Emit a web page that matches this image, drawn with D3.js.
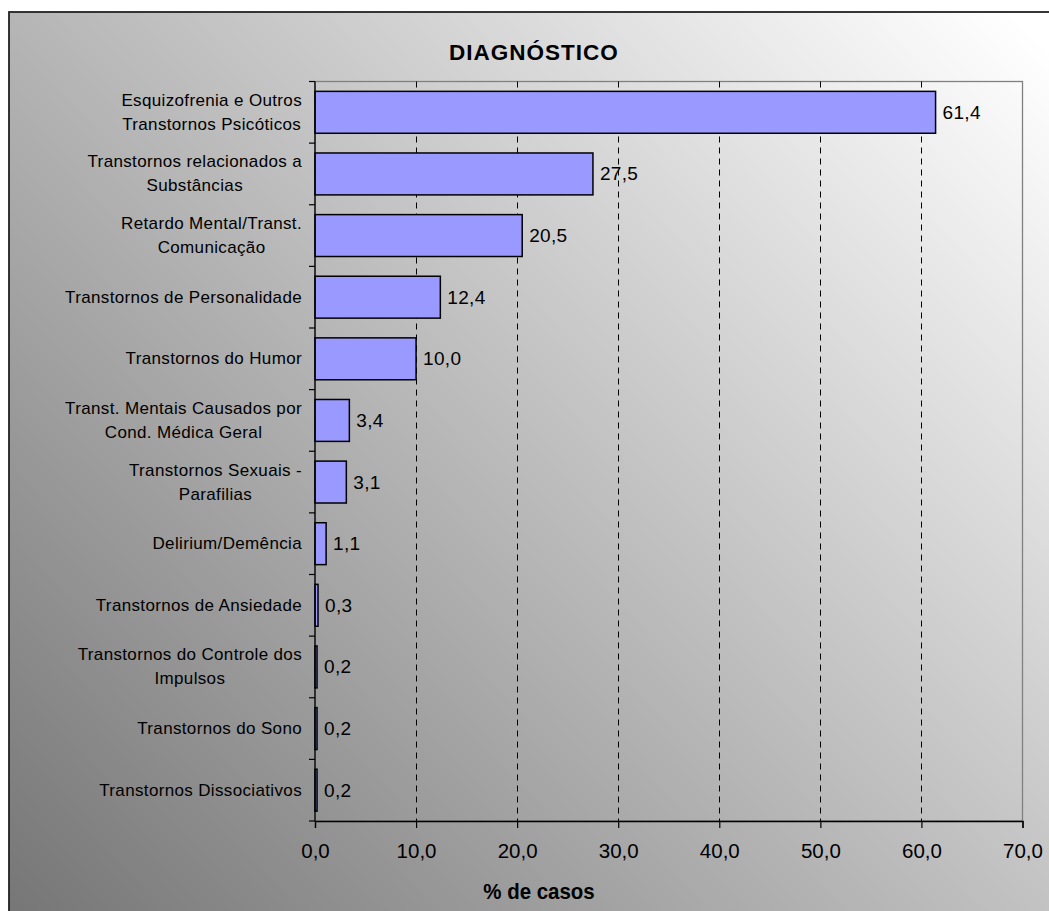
<!DOCTYPE html>
<html>
<head>
<meta charset="utf-8">
<script src="https://cdn.jsdelivr.net/npm/d3@7/dist/d3.min.js"></script>
<style>
  html, body { margin: 0; padding: 0; background: #fff; }
  svg { display: block; }
  text { font-family: "Liberation Sans", Arial, sans-serif; fill: #000; }
</style>
</head>
<body>
<svg id="chart" width="1049" height="911"></svg>
<script>
// Diagnósticos (% de casos)
const categories = [
  "Esquizofrenia e Outros\nTranstornos Psicóticos",
  "Transtornos relacionados a\nSubstâncias",
  "Retardo Mental/Transt.\nComunicação",
  "Transtornos de Personalidade",
  "Transtornos do Humor",
  "Transt. Mentais Causados por\nCond. Médica Geral",
  "Transtornos Sexuais -\nParafilias",
  "Delirium/Demência",
  "Transtornos de Ansiedade",
  "Transtornos do Controle dos\nImpulsos",
  "Transtornos do Sono",
  "Transtornos Dissociativos"
];
const values = [61.4, 27.5, 20.5, 12.4, 10.0, 3.4, 3.1, 1.1, 0.3, 0.2, 0.2, 0.2];
const xTicks = [0, 10, 20, 30, 40, 50, 60, 70];
const chartTitle = "DIAGNÓSTICO";
const axisTitle = "% de casos";

const fmt = v => d3.format(".1f")(v).replace(".", ",");

const svg = d3.select("#chart");
const W = 1049, H = 911;

// background gradient (dark bottom-left to light top-right)
const defs = svg.append("defs");
const grad = defs.append("linearGradient")
  .attr("id", "bg")
  .attr("gradientUnits", "userSpaceOnUse")
  .attr("x1", 0).attr("y1", 960)
  .attr("x2", 1000).attr("y2", 0);
grad.append("stop").attr("offset", "0%").attr("stop-color", "#727272");
grad.append("stop").attr("offset", "100%").attr("stop-color", "#ffffff");

svg.append("rect").attr("width", W).attr("height", H).attr("fill", "#fff");
svg.append("rect")
  .attr("x", 9).attr("y", 12)
  .attr("width", W + 20).attr("height", H + 20)
  .attr("fill", "url(#bg)")
  .attr("stroke", "#222").attr("stroke-width", 1.8);

const plot = { left: 315, top: 81.5, right: 1022.5, bottom: 821 };

const x = d3.scaleLinear().domain([0, 70]).range([plot.left, plot.right]);
const y = d3.scaleBand()
  .domain(categories)
  .range([plot.top, plot.bottom])
  .paddingInner(0.32)
  .paddingOuter(0.16);

// plot area frame
svg.append("rect")
  .attr("x", plot.left).attr("y", plot.top)
  .attr("width", plot.right - plot.left).attr("height", plot.bottom - plot.top)
  .attr("fill", "none").attr("stroke", "#808080").attr("stroke-width", 1.3);

// dashed vertical gridlines
svg.append("g")
  .selectAll("line")
  .data(xTicks.filter(t => t > 0 && t < 70))
  .join("line")
  .attr("x1", d => Math.round(x(d)) + 0.5).attr("x2", d => Math.round(x(d)) + 0.5)
  .attr("y1", plot.top).attr("y2", plot.bottom)
  .attr("stroke", "#000").attr("stroke-width", 1)
  .attr("stroke-dasharray", "6,5");

// bars
svg.append("g")
  .selectAll("rect")
  .data(values)
  .join("rect")
  .attr("x", x(0))
  .attr("y", (d, i) => y(categories[i]))
  .attr("width", d => x(d) - x(0))
  .attr("height", y.bandwidth())
  .attr("fill", "#9999ff")
  .attr("stroke", "#000").attr("stroke-width", 1.5);

// value labels
svg.append("g")
  .selectAll("text")
  .data(values)
  .join("text")
  .attr("x", d => x(d) + 7)
  .attr("y", (d, i) => y(categories[i]) + y.bandwidth() / 2 + 6.5)
  .attr("font-size", 19)
  .attr("letter-spacing", 0.3)
  .text(d => fmt(d));

// x axis
const xAxis = svg.append("g")
  .attr("transform", `translate(0,${plot.bottom})`)
  .call(d3.axisBottom(x).tickValues(xTicks).tickFormat(fmt).tickSize(7).tickPadding(0));
xAxis.select(".domain").attr("stroke", "#000").attr("stroke-width", 1.3);
xAxis.selectAll(".tick line").attr("stroke", "#000").attr("stroke-width", 1.2);
xAxis.selectAll(".tick text")
  .attr("font-family", "Liberation Sans, Arial, sans-serif")
  .attr("font-size", 20.5)
  .attr("dy", null)
  .attr("y", 37)
  .attr("fill", "#000");

// y axis: line and boundary ticks between categories
const yAxis = svg.append("g");
yAxis.append("line")
  .attr("x1", plot.left).attr("x2", plot.left)
  .attr("y1", plot.top).attr("y2", plot.bottom)
  .attr("stroke", "#000").attr("stroke-width", 1.3);
const step = y.step();
yAxis.selectAll("line.tk")
  .data(d3.range(categories.length + 1))
  .join("line")
  .attr("class", "tk")
  .attr("x1", plot.left - 6).attr("x2", plot.left)
  .attr("y1", i => plot.top + i * step)
  .attr("y2", i => plot.top + i * step)
  .attr("stroke", "#000").attr("stroke-width", 1.2);

// category labels: multi-line blocks, centred lines, right edge near the axis
const labelRight = 302;
const lineGap = 24;
categories.forEach((cat, i) => {
  const lines = cat.split("\n");
  const cy = y(cat) + y.bandwidth() / 2;
  const g = svg.append("g");
  const texts = lines.map((ln, k) =>
    g.append("text")
      .attr("y", cy + (k - (lines.length - 1) / 2) * lineGap + 5.5)
      .attr("font-size", 17)
      .attr("letter-spacing", 0.35)
      .attr("text-anchor", "middle")
      .text(ln)
  );
  const widest = d3.max(texts, t => t.node().getComputedTextLength());
  texts.forEach(t => t.attr("x", labelRight - widest / 2));
});

// titles
svg.append("text")
  .attr("x", 534).attr("y", 60)
  .attr("text-anchor", "middle")
  .attr("font-size", 22.5)
  .attr("font-weight", "bold")
  .attr("letter-spacing", 1)
  .text(chartTitle);

svg.append("text")
  .attr("x", 539).attr("y", 899)
  .attr("text-anchor", "middle")
  .attr("font-size", 22)
  .attr("font-weight", "bold")
  .attr("transform", "translate(539,899) scale(0.93,1) translate(-539,-899)")
  .text(axisTitle);
</script>
</body>
</html>
